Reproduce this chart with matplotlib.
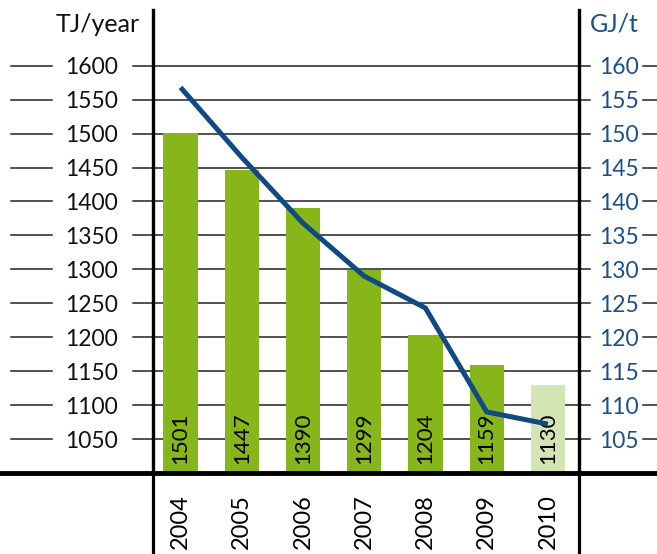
import matplotlib
matplotlib.use("Agg")
import matplotlib.pyplot as plt

plt.rcParams['font.family'] = ['Lato', 'DejaVu Sans']

years = ['2004', '2005', '2006', '2007', '2008', '2009', '2010']
energy_tj = [1501, 1447, 1390, 1299, 1204, 1159, 1130]
specific_gj = [156.8, 146.5, 136.8, 129.0, 124.3, 109.0, 107.2]
left_ticks = [1050, 1100, 1150, 1200, 1250, 1300, 1350, 1400, 1450, 1500, 1550, 1600]
right_ticks = [105, 110, 115, 120, 125, 130, 135, 140, 145, 150, 155, 160]

GREEN = '#86b61a'
LIGHT = '#d3e5b2'
BLUE = '#0f4a82'
BLUE_TXT = '#1c5088'

W, H = 657, 554
fig = plt.figure(figsize=(W / 100, H / 100), dpi=100)
x0, x1, y0, y1 = 153, 578.5, 473, 10
ax = fig.add_axes([x0 / W, (H - y0) / H, (x1 - x0) / W, (y0 - y1) / H])

ylo, yhi = 1000, 1682
ax.set_ylim(ylo, yhi)
ax.set_xlim(-0.45, 6.5)

cols = [GREEN] * 6 + [LIGHT]
xs = range(len(years))
ax.bar(xs, energy_tj, width=0.56, color=cols, zorder=3)

for i, v in enumerate(energy_tj):
    ax.annotate(str(v), (i, ylo), xytext=(0, 9), textcoords='offset pixels',
                rotation=90, ha='center', va='bottom', fontsize=16, zorder=5)

# gridlines extending beyond the axes
ax_w = x1 - x0
trans = ax.get_yaxis_transform()
for v in left_ticks:
    ax.plot([(133 - x0) / ax_w, (590 - x0) / ax_w], [v, v], color='#222222',
            lw=1.1, transform=trans, clip_on=False, zorder=1)
    ax.plot([(11 - x0) / ax_w, (52 - x0) / ax_w], [v, v], color='#222222',
            lw=1.1, transform=trans, clip_on=False, zorder=1)
    ax.plot([(643 - x0) / ax_w, (660 - x0) / ax_w], [v, v], color='#222222',
            lw=1.1, transform=trans, clip_on=False, zorder=1)

ax.set_yticks(left_ticks)
ax.tick_params(axis='y', length=0, pad=25, labelsize=16.5, labelcolor='#111111')
ax.set_xticks(list(xs), years, rotation=90)
ax.tick_params(axis='x', length=0, pad=15, labelsize=17)

for s in ['top', 'bottom', 'right']:
    ax.spines[s].set_visible(False)
ax.spines['left'].set_linewidth(2.3)

ax2 = ax.twinx()
ax2.set_ylim(ylo / 10, yhi / 10)
ax2.plot(xs, specific_gj, color=BLUE, lw=3.6, solid_capstyle='butt',
         solid_joinstyle='round', zorder=6)
ax2.set_yticks(right_ticks)
ax2.tick_params(axis='y', length=0, pad=15, labelsize=16.5, labelcolor=BLUE_TXT)
for s in ['top', 'bottom', 'left']:
    ax2.spines[s].set_visible(False)
ax2.spines['right'].set_linewidth(2.3)

# vertical axis lines continuing below the baseline, and the baseline itself
figt = fig.transFigure
for xp in (x0, x1):
    fig.add_artist(plt.Line2D([xp / W, xp / W], [0, (H - y1) / H], color='black',
                              lw=2.3, transform=figt))
fig.add_artist(plt.Line2D([0, 1], [(H - y0) / H] * 2, color='black', lw=3.5,
                          transform=figt))

fig.text(140 / W, (H - 24) / H, 'TJ/year', ha='right', va='center', fontsize=18,
         color='#111111')
fig.text(590 / W, (H - 24) / H, 'GJ/t', ha='left', va='center', fontsize=18,
         color=BLUE_TXT)

fig.savefig('out.png', dpi=100)
